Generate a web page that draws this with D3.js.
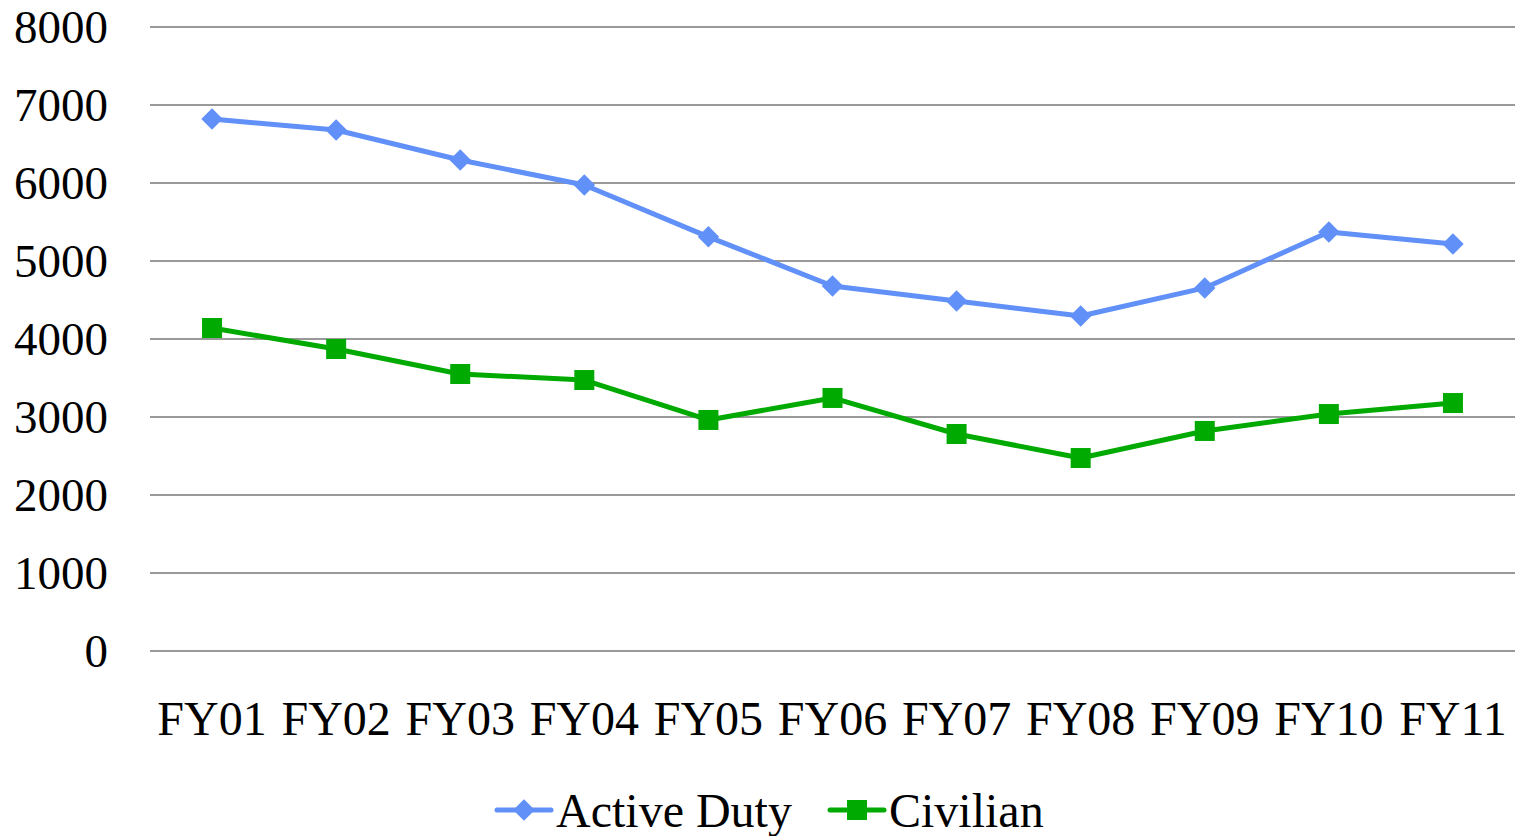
<!DOCTYPE html>
<html>
<head>
<meta charset="utf-8">
<script src="https://cdn.jsdelivr.net/npm/d3@7"></script>
<style>
  body { margin: 0; background: #fff; }
  text { font-family: "Liberation Serif", "Times New Roman", serif; fill: #000; }
</style>
</head>
<body>
<div id="chart"></div>
<script>
// Data
const years = ["FY01", "FY02", "FY03", "FY04", "FY05", "FY06", "FY07", "FY08", "FY09", "FY10", "FY11"];
const activeDuty = [6820, 6680, 6295, 5975, 5310, 4680, 4487, 4295, 4655, 5372, 5218];
const civilian = [4141, 3872, 3551, 3474, 2962, 3244, 2782, 2474, 2821, 3038, 3179];
const yTicks = [0, 1000, 2000, 3000, 4000, 5000, 6000, 7000, 8000];

const series = [
    { name: "Active Duty", values: activeDuty, color: "#6090f8", rotate: 45, size: 230 },
    { name: "Civilian", values: civilian, color: "#00aa00", rotate: 0, size: 400 }
];

// Dimensions
const W = 1515, H = 836;
const margin = { top: 27, right: 0, bottom: 185, left: 150 };
const width = W - margin.left - margin.right;
const height = H - margin.top - margin.bottom;

const svg = d3.select("#chart")
    .append("svg")
    .attr("width", W)
    .attr("height", H);

const g = svg.append("g")
    .attr("transform", `translate(${margin.left},${margin.top})`);

// Scales
const x = d3.scaleBand()
    .domain(years)
    .range([0, width]);

const y = d3.scaleLinear()
    .domain([0, 8000])
    .range([height, 0]);

// Gridlines
g.selectAll(".grid")
    .data(yTicks)
    .enter()
    .append("line")
    .attr("x1", 0)
    .attr("x2", width)
    .attr("y1", d => y(d))
    .attr("y2", d => y(d))
    .attr("stroke", "#999")
    .attr("stroke-width", 2);

// Y axis labels
g.append("g")
    .call(d3.axisLeft(y).tickValues(yTicks).tickFormat(d3.format("d")).tickSize(0).tickPadding(42))
    .call(a => a.select(".domain").remove())
    .selectAll("text")
    .attr("font-size", 47)
    .attr("font-family", "Liberation Serif");

// X axis labels
g.append("g")
    .attr("transform", `translate(0,${height})`)
    .call(d3.axisBottom(x).tickSize(0).tickPadding(50))
    .call(a => a.select(".domain").remove())
    .selectAll("text")
    .attr("font-size", 48)
    .attr("font-family", "Liberation Serif");

// Lines and markers
const line = d3.line()
    .x((d, i) => x(years[i]) + x.bandwidth() / 2)
    .y(d => y(d));

const marker = s => d3.symbol().type(d3.symbolSquare).size(s.size);

series.forEach(s => {
    g.append("path")
        .datum(s.values)
        .attr("fill", "none")
        .attr("stroke", s.color)
        .attr("stroke-width", 5)
        .attr("stroke-linejoin", "round")
        .attr("d", line);

    g.selectAll(null)
        .data(s.values)
        .enter()
        .append("path")
        .attr("d", marker(s))
        .attr("transform", (d, i) => `translate(${x(years[i]) + x.bandwidth() / 2},${y(d)}) rotate(${s.rotate})`)
        .attr("fill", s.color);
});

// Legend
const legendY = 810;
const legend = svg.append("g");
const legendX = [497, 830];
series.forEach((s, i) => {
    const lg = legend.append("g").attr("transform", `translate(${legendX[i]},${legendY})`);
    lg.append("line")
        .attr("x1", 0).attr("x2", 54)
        .attr("y1", 0).attr("y2", 0)
        .attr("stroke", s.color)
        .attr("stroke-width", 5)
        .attr("stroke-linecap", "round");
    lg.append("path")
        .attr("d", marker(s))
        .attr("transform", `translate(27,0) rotate(${s.rotate})`)
        .attr("fill", s.color);
    lg.append("text")
        .attr("x", 59)
        .attr("y", 0)
        .attr("dy", "0.35em")
        .attr("font-size", 48)
        .text(s.name);
});
</script>
</body>
</html>
